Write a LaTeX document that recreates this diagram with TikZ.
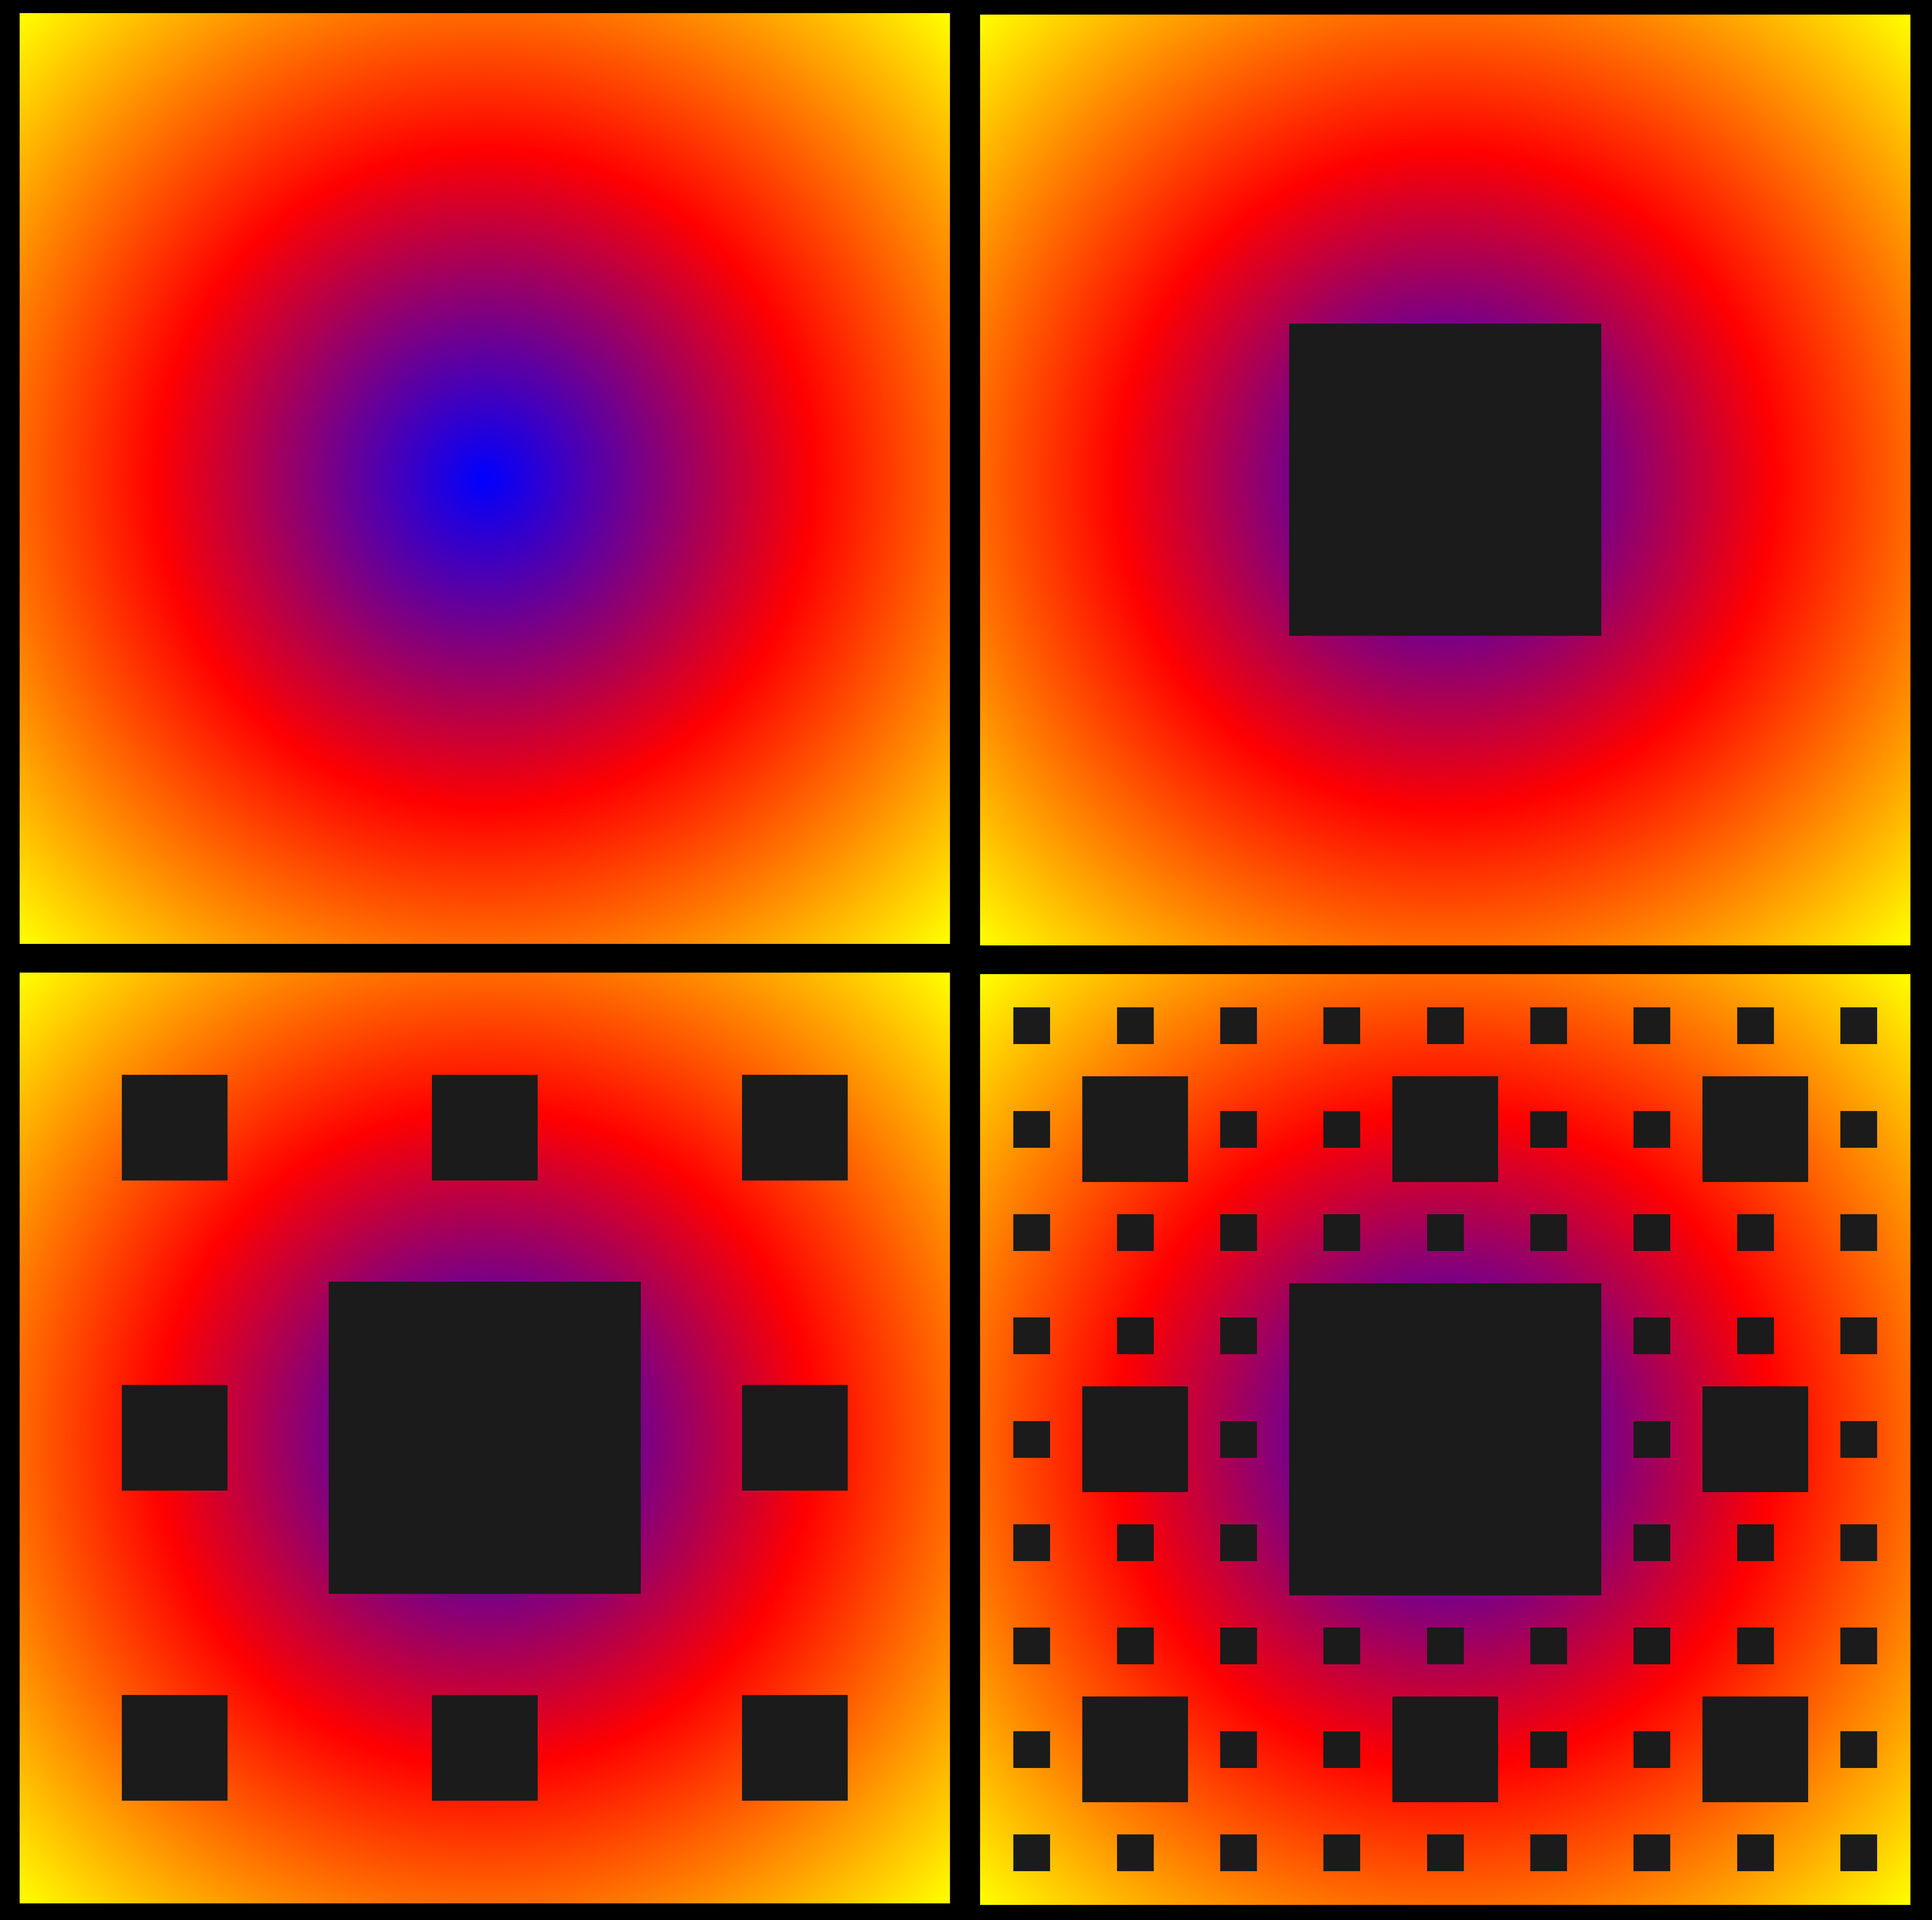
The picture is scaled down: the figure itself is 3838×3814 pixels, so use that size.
\documentclass[tikz,border=0pt]{standalone}
\usepackage{tikz}
\usetikzlibrary{
    calc
}
\definecolor{GlowBlue}{RGB}{0,0,255}
\definecolor{GlowRed}{RGB}{255,0,0}
\definecolor{GlowYellow}{RGB}{255,255,0}
\definecolor{HoleGray}{RGB}{27,27,27}
\pgfdeclareradialshading{carpetglow}{\pgfpoint{0bp}{0bp}}{
    color(0bp)=(GlowBlue);
    color(17.68bp)=(GlowRed);
    color(35.36bp)=(GlowYellow);
    color(50bp)=(GlowYellow)
}
\newcommand{\side}{1848}
\newcommand{\hole}[3]{\fill[holebox] ({#1},{#2}) rectangle ++({#3},{#3});}

\begin{document}
\begin{tikzpicture}[
    x=0.01cm,
    y=-0.01cm,
    panel/.style={shading=carpetglow},
    holebox/.style={fill=HoleGray, draw=HoleGray, line width=1.3pt}
]

\fill[black] (0,0) rectangle (3838,3814);
\useasboundingbox (0,0) rectangle (3838,3814);

\coordinate (TL) at (39,26);
\coordinate (TR) at (1947,29);
\coordinate (BL) at (39,1932);
\coordinate (BR) at (1947,1935);

% the four panels
\foreach \p in {TL,TR,BL,BR} {
    \shade[panel] (\p) rectangle ++(\side,\side);
}

% level 1
\foreach \p in {TR,BL,BR} {
    \begin{scope}[shift={(\p)}]
        \hole{\side/3}{\side/3}{\side/3}
    \end{scope}
}

% level 2
\foreach \p in {BL,BR} {
    \begin{scope}[shift={(\p)}]
        \foreach \i/\j in {0/0,1/0,2/0,0/1,2/1,0/2,1/2,2/2} {
            \hole{\side/9*(3*\i+1)}{\side/9*(3*\j+1)}{\side/9}
        }
    \end{scope}
}

% level 3
\begin{scope}[shift={(BR)}]
    \foreach \i in {0,...,8} {
        \foreach \j in {0,...,8} {
            \pgfmathtruncatemacro{\cut}{(mod(\i,3)==1)*(mod(\j,3)==1)+(int(\i/3)==1)*(int(\j/3)==1)}
            \ifnum\cut=0
                \hole{\side/27*(3*\i+1)}{\side/27*(3*\j+1)}{\side/27}
            \fi
        }
    }
\end{scope}

\end{tikzpicture}
\end{document}
